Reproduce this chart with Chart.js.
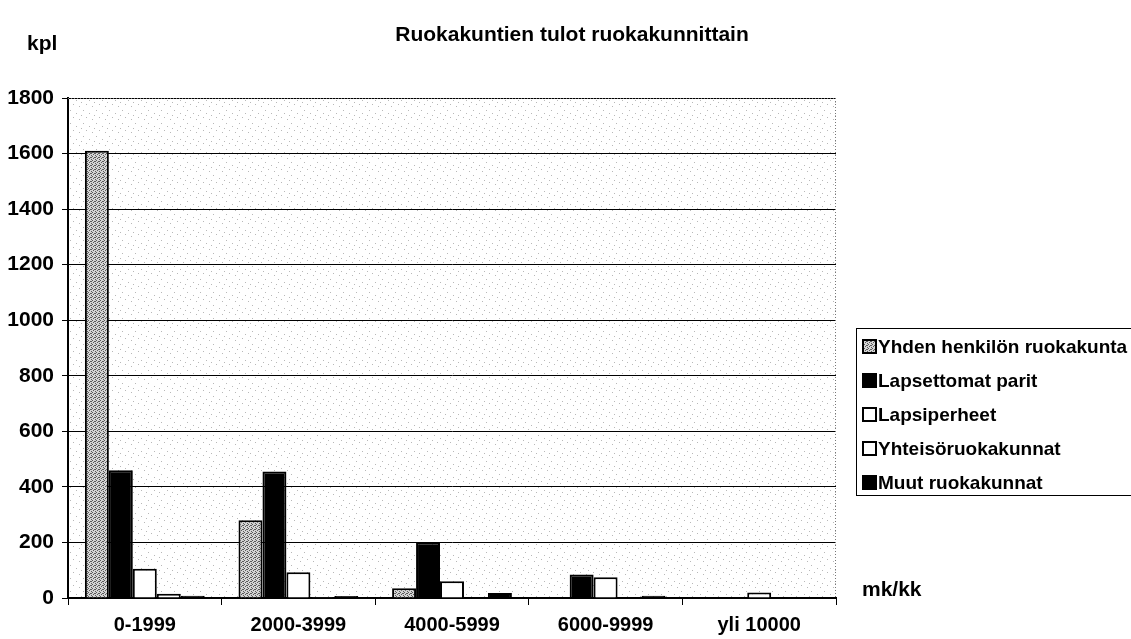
<!DOCTYPE html>
<html>
<head>
<meta charset="utf-8">
<script src="https://cdn.jsdelivr.net/npm/chart.js@4/dist/chart.umd.min.js"></script>
<style>
  html, body { margin: 0; padding: 0; background: #fff; }
  #wrap { width: 1131px; height: 639px; position: relative; }
</style>
</head>
<body>
<div id="wrap"><canvas id="chart"></canvas></div>
<script>
// Data
const categories = ["0-1999", "2000-3999", "4000-5999", "6000-9999", "yli 10000"];
const yhdenHenkilon = [1610, 280, 35, 0, 0];
const lapsettomatParit = [460, 455, 200, 85, 0];
const lapsiperheet = [105, 93, 60, 75, 20];
const yhteisoruokakunnat = [15, 3, 0, 0, 0];
const muutRuokakunnat = [8, 7, 18, 8, 0];
const yTicks = [0, 200, 400, 600, 800, 1000, 1200, 1400, 1600, 1800];

const FONT = "'Liberation Sans', Arial, sans-serif";

// small stipple textures, fixed dot positions
function makePattern(size, bg, dot, dots) {
  const c = document.createElement("canvas");
  c.width = size; c.height = size;
  const g = c.getContext("2d");
  g.fillStyle = bg;
  g.fillRect(0, 0, size, size);
  g.fillStyle = dot;
  dots.forEach(d => g.fillRect(d[0], d[1], 1, 1));
  return g.createPattern(c, "repeat");
}

const greyStipple = makePattern(4, "#d4d4d4", "#5a5a5a", [[0, 0], [2, 1], [1, 2], [3, 3], [3, 1]]);
const plotStipple = makePattern(13, "#ffffff", "#b8b8b8", [[1, 2], [8, 0], [5, 6], [11, 9], [3, 11]]);

const series = [
  { label: "Yhden henkilön ruokakunta", data: yhdenHenkilon, fill: greyStipple, swatch: greyStipple },
  { label: "Lapsettomat parit", data: lapsettomatParit, fill: "#000000", swatch: "#000000" },
  { label: "Lapsiperheet", data: lapsiperheet, fill: "#ffffff", swatch: "#ffffff" },
  { label: "Yhteisöruokakunnat", data: yhteisoruokakunnat, fill: "#ffffff", swatch: "#ffffff" },
  { label: "Muut ruokakunnat", data: muutRuokakunnat, fill: "#000000", swatch: "#000000" }
];

// Background, frame, titles and boxed legend
const decorPlugin = {
  id: "decor",
  beforeDraw(chart) {
    const ctx = chart.ctx;
    const a = chart.chartArea;
    ctx.save();
    ctx.fillStyle = plotStipple;
    ctx.fillRect(a.left, a.top, a.right - a.left, a.bottom - a.top);
    ctx.restore();
  },
  afterDraw(chart) {
    const ctx = chart.ctx;
    const a = chart.chartArea;
    ctx.save();

    // dotted top and right frame
    ctx.strokeStyle = "#777";
    ctx.lineWidth = 1;
    ctx.setLineDash([1, 2]);
    ctx.beginPath();
    ctx.moveTo(a.left, a.top + 0.5);
    ctx.lineTo(a.right, a.top + 0.5);
    ctx.moveTo(a.right - 0.5, a.top);
    ctx.lineTo(a.right - 0.5, a.bottom);
    ctx.stroke();
    ctx.setLineDash([]);

    ctx.fillStyle = "#000";
    ctx.textBaseline = "middle";
    ctx.font = "bold 21px " + FONT;
    ctx.textAlign = "center";
    ctx.fillText("Ruokakuntien tulot ruokakunnittain", 572, 35);

    ctx.textAlign = "left";
    ctx.fillText("kpl", 27, 44);
    ctx.fillText("mk/kk", 862, 590);

    // legend box
    const lx = 856, ly = 328, lh = 167;
    ctx.strokeStyle = "#000";
    ctx.lineWidth = 1;
    ctx.strokeRect(lx + 0.5, ly + 0.5, 300, lh);

    ctx.font = "bold 19px " + FONT;
    series.forEach((s, i) => {
      const cy = 347 + i * 34;
      ctx.fillStyle = s.swatch;
      ctx.fillRect(863, cy - 7, 13, 13);
      ctx.strokeStyle = "#000";
      ctx.lineWidth = 2;
      ctx.strokeRect(863, cy - 7, 13, 13);
      ctx.fillStyle = "#000";
      ctx.fillText(s.label, 878, cy + 1);
    });
    ctx.restore();
  }
};

new Chart(document.getElementById("chart"), {
  type: "bar",
  data: {
    labels: categories,
    datasets: series.map(s => ({
      label: s.label,
      data: s.data,
      backgroundColor: s.fill,
      borderColor: "#000000",
      borderWidth: 2,
      borderSkipped: "bottom",
      categoryPercentage: 0.78,
      barPercentage: 1.0
    }))
  },
  options: {
    responsive: true,
    maintainAspectRatio: false,
    animation: false,
    layout: {
      padding: { top: 98, right: 295, bottom: 0, left: 0 }
    },
    plugins: {
      legend: { display: false },
      tooltip: { enabled: false }
    },
    scales: {
      x: {
        offset: true,
        afterFit(scale) { scale.height = 41; },
        grid: {
          offset: true,
          drawOnChartArea: false,
          drawTicks: true,
          tickLength: 7,
          color: "#000"
        },
        border: { color: "#000", width: 2 },
        ticks: {
          color: "#000",
          padding: 8,
          font: { family: FONT, size: 20, weight: "bold" }
        }
      },
      y: {
        min: 0,
        max: 1800,
        afterFit(scale) { scale.width = 68; },
        afterBuildTicks(scale) { scale.ticks = yTicks.map(v => ({ value: v })); },
        grid: {
          color: "#000",
          lineWidth: 1,
          drawTicks: true,
          tickLength: 6
        },
        border: { color: "#000", width: 2 },
        ticks: {
          color: "#000",
          padding: 8,
          callback: v => String(v),
          font: { family: FONT, size: 21, weight: "bold" }
        }
      }
    }
  },
  plugins: [decorPlugin]
});
</script>
</body>
</html>
